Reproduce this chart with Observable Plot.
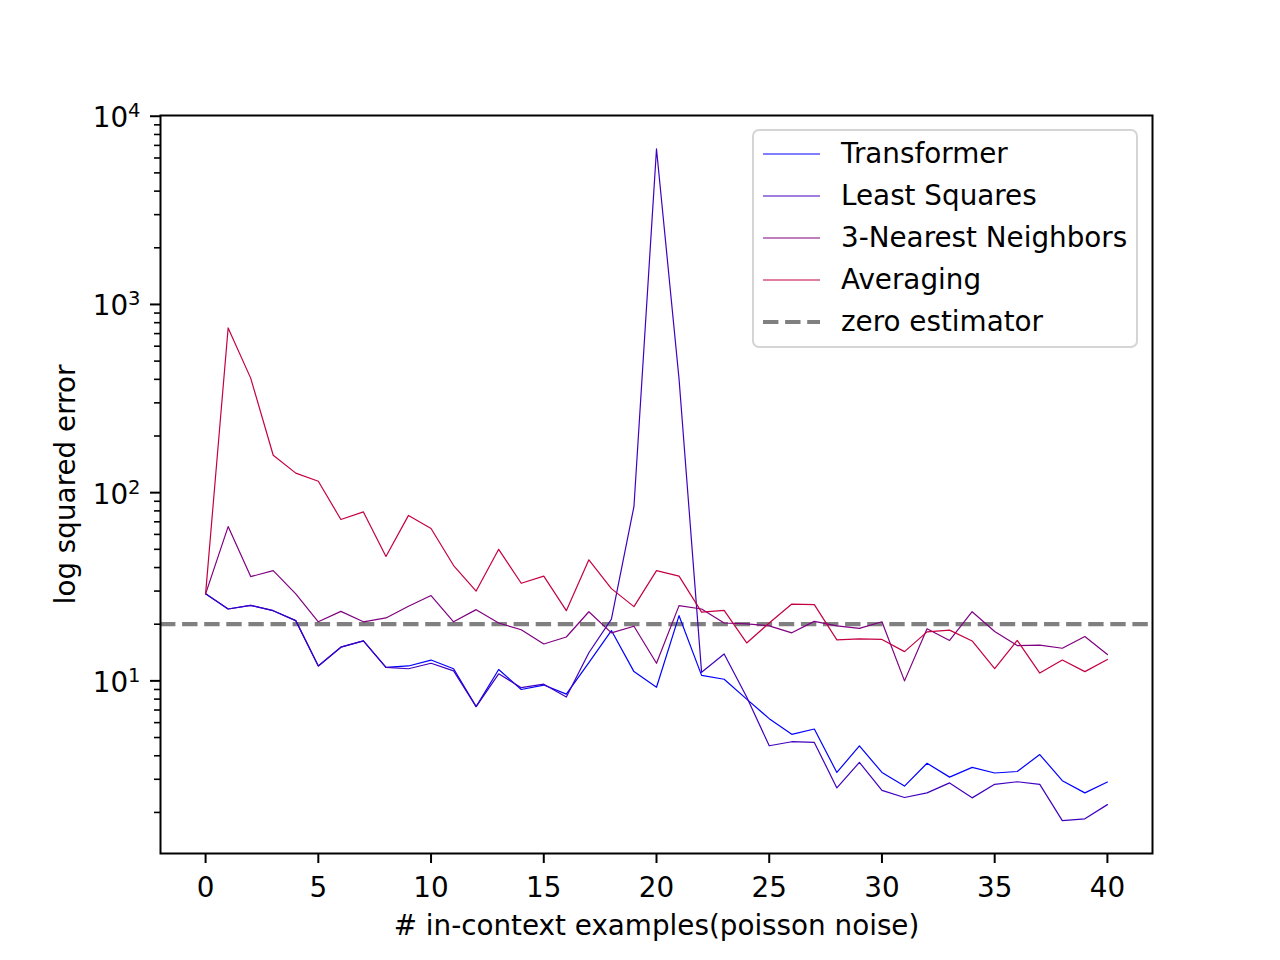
<!DOCTYPE html>
<html>
<head>
<meta charset="utf-8">
<script src="https://cdn.jsdelivr.net/npm/d3@7"></script>
<script src="https://cdn.jsdelivr.net/npm/@observablehq/plot@0.6"></script>
<style>
  html, body { margin: 0; padding: 0; background: #fff; }
  #wrap { position: relative; width: 1280px; height: 960px; font-family: "DejaVu Sans", sans-serif; }
  #legend {
    position: absolute; left: 752px; top: 129px; width: 382px; height: 215px;
    border: 2px solid #d5d5d5; border-radius: 7px; background: rgba(255,255,255,0.8);
    box-sizing: content-box;
  }
  .row { position: absolute; left: 0; height: 42px; width: 100%; }
  .row svg { position: absolute; left: 9px; top: 0; }
  .row span { position: absolute; left: 87px; top: 0; line-height: 42px; font-size: 27.8px; color: #000; white-space: nowrap; }
</style>
</head>
<body>
<div id="wrap"><div id="legend"></div></div>
<script>
const xs = d3.range(0, 41);
const transformer = [29, 24.1, 25.2, 23.6, 20.9, 12.0, 15.1, 16.3, 11.8, 12.0, 12.9, 11.6, 7.3, 11.5, 9.0, 9.5, 8.5, 12.5, 18.5, 11.2, 9.25, 22.2, 10.7, 10.2, 8.0, 6.3, 5.2, 5.55, 3.26, 4.52, 3.26, 2.76, 3.65, 3.08, 3.47, 3.24, 3.30, 4.06, 2.95, 2.54, 2.90];
const leastSquares = [29, 24.1, 25.2, 23.6, 20.9, 12.0, 15.1, 16.3, 11.8, 11.6, 12.4, 11.3, 7.3, 10.9, 9.2, 9.6, 8.2, 14.1, 21.3, 84.5, 6700, 402, 11.1, 13.9, 8.2, 4.52, 4.75, 4.71, 2.70, 3.69, 2.62, 2.40, 2.54, 2.87, 2.39, 2.82, 2.91, 2.82, 1.81, 1.85, 2.20];
const knn3 = [29, 66, 35.8, 38.5, 29, 20.6, 23.4, 20.6, 21.6, 24.9, 28.4, 20.6, 23.9, 20.3, 18.7, 15.7, 17.1, 23.3, 18.0, 19.5, 12.4, 25.1, 24.1, 20.3, 20.1, 19.6, 18.0, 20.7, 19.6, 19.0, 20.6, 10.0, 18.9, 16.4, 23.3, 18.3, 15.4, 15.5, 14.9, 17.2, 13.8];
const averaging = [29, 750, 406, 158, 127, 115, 72, 79, 45.8, 75.7, 64.5, 41, 30, 50, 33, 36, 23.6, 44, 30.9, 24.8, 38.5, 36, 23.2, 23.7, 15.9, 20.3, 25.6, 25.4, 16.5, 16.7, 16.6, 14.3, 18.2, 18.6, 16.3, 11.6, 16.4, 11.0, 12.9, 11.2, 13.0];
const zeroEstimator = 20;

const seriesNames = ["Transformer", "Least Squares", "3-Nearest Neighbors", "Averaging"];
const seriesColors = ["#0000ff", "#4000bf", "#800080", "#c40040"];
const seriesValues = [transformer, leastSquares, knn3, averaging];
const xTicks = [0, 5, 10, 15, 20, 25, 30, 35, 40];
const yTicks = [10, 100, 1000, 10000];

const rows = [];
seriesValues.forEach((vals, s) => vals.forEach((v, i) => rows.push({x: xs[i], y: v, s})));

const yDomain = [1.21, 10090];
const minorTicks = [];
for (let d = 0; d <= 4; d++) for (let k = 2; k <= 9; k++) {
  const v = k * Math.pow(10, d);
  if (v >= yDomain[0] && v <= yDomain[1]) minorTicks.push(v);
}

const chart = Plot.plot({
  width: 1280, height: 960,
  marginLeft: 160, marginRight: 128, marginTop: 115, marginBottom: 107,
  style: {fontFamily: "DejaVu Sans", fontSize: "27.8px", background: "#fff", color: "#000"},
  x: {domain: [-2, 42]},
  y: {type: "log", domain: yDomain},
  marks: [
    Plot.ruleY([zeroEstimator], {stroke: "#808080", strokeWidth: 4.2, strokeDasharray: "15.4,6.7"}),
    ...seriesValues.map((vals, s) => Plot.line(rows.filter(r => r.s === s), {x: "x", y: "y", stroke: seriesColors[s], strokeWidth: 1.2})),
    Plot.frame({stroke: "#000", strokeWidth: 2}),
    Plot.axisX({ticks: xTicks, tickSize: 10, tickPadding: 14, strokeWidth: 2, tickFormat: d => String(d),
      label: "# in-context examples(poisson noise)", labelAnchor: "center", labelArrow: "none", labelOffset: 81}),
    Plot.axisY({ticks: yTicks, tickSize: 10, tickPadding: 10, strokeWidth: 2,
      tickFormat: d => "10^" + Math.round(Math.log10(d)),
      label: "log squared error", labelAnchor: "center", labelArrow: "none", labelOffset: 105}),
    Plot.axisY({ticks: minorTicks, tickSize: 6, strokeWidth: 1.6, tickFormat: () => "", label: null})
  ]
});
document.getElementById("wrap").prepend(chart);

// render exponent as a real superscript tspan
chart.querySelectorAll("text").forEach(t => {
  const s = t.textContent;
  const m = /^10\^(\d)$/.exec(s);
  if (m) {
    t.textContent = "";
    const ns = "http://www.w3.org/2000/svg";
    const base = document.createElementNS(ns, "tspan");
    base.textContent = "10";
    const sup = document.createElementNS(ns, "tspan");
    sup.textContent = m[1];
    sup.setAttribute("font-size", "19.5px");
    sup.setAttribute("dy", "-10");
    t.appendChild(base);
    t.appendChild(sup);
    t.setAttribute("transform", (t.getAttribute("transform") || "") + " translate(0,2)");
  }
});

const legend = document.getElementById("legend");
const entries = seriesNames.map((n, i) => ({name: n, color: seriesColors[i], dash: null, w: 1.2}))
  .concat([{name: "zero estimator", color: "#808080", dash: "15.4,6.7", w: 4.2}]);
entries.forEach((e, i) => {
  const row = document.createElement("div");
  row.className = "row";
  row.style.top = (2 + i * 42) + "px";
  row.innerHTML = `<svg width="60" height="42"><line x1="0" x2="57" y1="21" y2="21" stroke="${e.color}" stroke-width="${e.w}" ${e.dash ? `stroke-dasharray="${e.dash}"` : ""}/></svg><span>${e.name}</span>`;
  legend.appendChild(row);
});
</script>
</body>
</html>
